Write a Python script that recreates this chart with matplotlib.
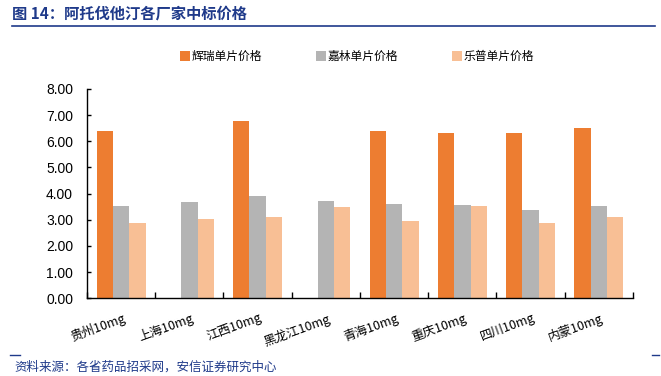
import matplotlib.pyplot as plt
import numpy as np

plt.rcParams['font.family'] = ['Noto Sans CJK SC', 'DejaVu Sans']

categories = ["贵州10mg", "上海10mg", "江西10mg", "黑龙江10mg",
              "青海10mg", "重庆10mg", "四川10mg", "内蒙10mg"]
series_names = ["辉瑞单片价格", "嘉林单片价格", "乐普单片价格"]
pfizer = [6.41, np.nan, 6.77, np.nan, 6.38, 6.31, 6.31, 6.50]
jialin = [3.53, 3.68, 3.91, 3.72, 3.60, 3.57, 3.38, 3.53]
lepu = [2.88, 3.03, 3.11, 3.49, 2.95, 3.53, 2.88, 3.11]
yticks = [0, 1, 2, 3, 4, 5, 6, 7, 8]

colors = ["#ED7D31", "#B4B4B4", "#F8BF95"]
navy = "#1F3A8A"


def main():
    fig = plt.figure(figsize=(6.61, 3.76), dpi=100)
    ax = fig.add_axes([0.1316, 0.2066, 0.826, 0.5567])

    x = np.arange(len(categories))
    width = 0.24
    for i, (vals, name) in enumerate(zip([pfizer, jialin, lepu], series_names)):
        ax.bar(x + (i - 1) * width, vals, width, color=colors[i], label=name)

    ax.set_xlim(-0.5, len(categories) - 0.5)
    ax.set_ylim(0, 8)
    ax.set_yticks(yticks)
    ax.set_yticklabels([f"{v:.2f}" for v in yticks], fontsize=10,
                       family="Liberation Sans")
    ax.tick_params(axis="y", direction="in", length=3, width=1, pad=10)

    ax.set_xticks(np.arange(len(categories) + 1) - 0.5)
    ax.set_xticklabels([])
    ax.tick_params(axis="x", direction="in", length=4, width=1)
    for xi, label in zip(x, categories):
        ax.text(xi + 0.02, -0.5, label, rotation=20, ha="right", va="top",
                rotation_mode="anchor", fontsize=9,
                family=["Noto Sans CJK SC", "DejaVu Sans"])

    for side in ["top", "right"]:
        ax.spines[side].set_visible(False)
    ax.spines["left"].set_linewidth(1)
    ax.spines["bottom"].set_linewidth(1)

    fig.legend(loc="upper center", bbox_to_anchor=(0.54, 0.895), ncol=3,
               frameon=False, fontsize=8.5, handlelength=0.8,
               handleheight=0.8, handletextpad=0.15, columnspacing=4.6)

    fig.text(12 / 661, 1 - 14 / 376, "图 14：阿托伐他汀各厂家中标价格",
             fontsize=11, fontweight="bold", color=navy, va="center")
    fig.add_artist(plt.Line2D([12 / 661, 655 / 661], [1 - 26 / 376] * 2,
                              color=navy, linewidth=1.2))
    fig.add_artist(plt.Line2D([10 / 661, 20 / 661], [1 - 355 / 376] * 2,
                              color=navy, linewidth=1))
    fig.add_artist(plt.Line2D([652 / 661, 659 / 661], [1 - 355 / 376] * 2,
                              color=navy, linewidth=1))
    fig.text(14 / 661, 1 - 367 / 376, "资料来源：各省药品招采网，安信证券研究中心",
             fontsize=9, color=navy, va="center", style="italic")

    fig.savefig("out.png", dpi=100)


if __name__ == "__main__":
    main()
